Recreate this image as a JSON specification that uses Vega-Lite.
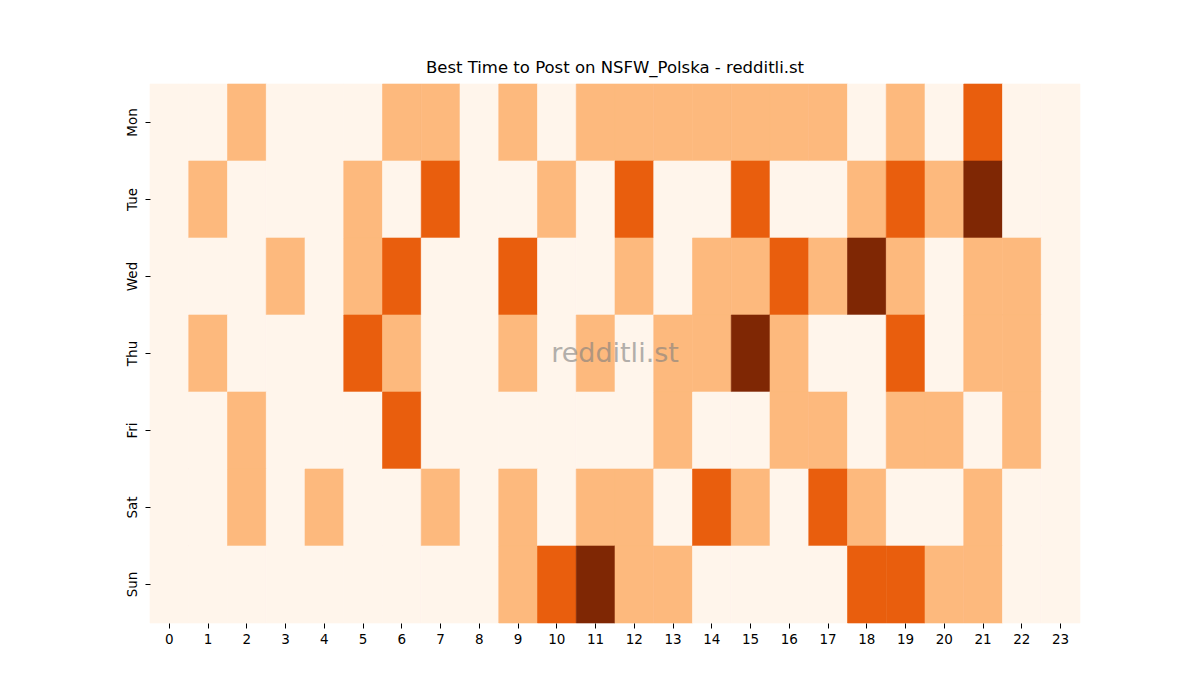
{
  "$schema": "https://vega.github.io/schema/vega-lite/v6.json",
  "autosize": {"type": "none"},
  "padding": {"left": 150, "top": 84, "right": 120, "bottom": 77},
  "width": 930,
  "height": 539,
  "background": "white",
  "title": {
    "text": "Best Time to Post on NSFW_Polska - redditli.st",
    "font": "DejaVu Sans",
    "fontSize": 16.5,
    "fontWeight": "normal",
    "color": "black",
    "offset": 7
  },
  "config": {
    "view": {"stroke": null},
    "axis": {
      "labelFont": "DejaVu Sans",
      "labelFontSize": 13.5,
      "labelColor": "black",
      "tickColor": "black",
      "tickSize": 5,
      "labelPadding": 4,
      "domain": false,
      "grid": false,
      "title": null
    }
  },
  "data": {
    "values": [
      {"day": "Mon", "hour": 0, "v": 0}, {"day": "Mon", "hour": 1, "v": 0}, {"day": "Mon", "hour": 2, "v": 1}, {"day": "Mon", "hour": 3, "v": 0},
      {"day": "Mon", "hour": 4, "v": 0}, {"day": "Mon", "hour": 5, "v": 0}, {"day": "Mon", "hour": 6, "v": 1}, {"day": "Mon", "hour": 7, "v": 1},
      {"day": "Mon", "hour": 8, "v": 0}, {"day": "Mon", "hour": 9, "v": 1}, {"day": "Mon", "hour": 10, "v": 0}, {"day": "Mon", "hour": 11, "v": 1},
      {"day": "Mon", "hour": 12, "v": 1}, {"day": "Mon", "hour": 13, "v": 1}, {"day": "Mon", "hour": 14, "v": 1}, {"day": "Mon", "hour": 15, "v": 1},
      {"day": "Mon", "hour": 16, "v": 1}, {"day": "Mon", "hour": 17, "v": 1}, {"day": "Mon", "hour": 18, "v": 0}, {"day": "Mon", "hour": 19, "v": 1},
      {"day": "Mon", "hour": 20, "v": 0}, {"day": "Mon", "hour": 21, "v": 2}, {"day": "Mon", "hour": 22, "v": 0}, {"day": "Mon", "hour": 23, "v": 0},

      {"day": "Tue", "hour": 0, "v": 0}, {"day": "Tue", "hour": 1, "v": 1}, {"day": "Tue", "hour": 2, "v": 0}, {"day": "Tue", "hour": 3, "v": 0},
      {"day": "Tue", "hour": 4, "v": 0}, {"day": "Tue", "hour": 5, "v": 1}, {"day": "Tue", "hour": 6, "v": 0}, {"day": "Tue", "hour": 7, "v": 2},
      {"day": "Tue", "hour": 8, "v": 0}, {"day": "Tue", "hour": 9, "v": 0}, {"day": "Tue", "hour": 10, "v": 1}, {"day": "Tue", "hour": 11, "v": 0},
      {"day": "Tue", "hour": 12, "v": 2}, {"day": "Tue", "hour": 13, "v": 0}, {"day": "Tue", "hour": 14, "v": 0}, {"day": "Tue", "hour": 15, "v": 2},
      {"day": "Tue", "hour": 16, "v": 0}, {"day": "Tue", "hour": 17, "v": 0}, {"day": "Tue", "hour": 18, "v": 1}, {"day": "Tue", "hour": 19, "v": 2},
      {"day": "Tue", "hour": 20, "v": 1}, {"day": "Tue", "hour": 21, "v": 3}, {"day": "Tue", "hour": 22, "v": 0}, {"day": "Tue", "hour": 23, "v": 0},

      {"day": "Wed", "hour": 0, "v": 0}, {"day": "Wed", "hour": 1, "v": 0}, {"day": "Wed", "hour": 2, "v": 0}, {"day": "Wed", "hour": 3, "v": 1},
      {"day": "Wed", "hour": 4, "v": 0}, {"day": "Wed", "hour": 5, "v": 1}, {"day": "Wed", "hour": 6, "v": 2}, {"day": "Wed", "hour": 7, "v": 0},
      {"day": "Wed", "hour": 8, "v": 0}, {"day": "Wed", "hour": 9, "v": 2}, {"day": "Wed", "hour": 10, "v": 0}, {"day": "Wed", "hour": 11, "v": 0},
      {"day": "Wed", "hour": 12, "v": 1}, {"day": "Wed", "hour": 13, "v": 0}, {"day": "Wed", "hour": 14, "v": 1}, {"day": "Wed", "hour": 15, "v": 1},
      {"day": "Wed", "hour": 16, "v": 2}, {"day": "Wed", "hour": 17, "v": 1}, {"day": "Wed", "hour": 18, "v": 3}, {"day": "Wed", "hour": 19, "v": 1},
      {"day": "Wed", "hour": 20, "v": 0}, {"day": "Wed", "hour": 21, "v": 1}, {"day": "Wed", "hour": 22, "v": 1}, {"day": "Wed", "hour": 23, "v": 0},

      {"day": "Thu", "hour": 0, "v": 0}, {"day": "Thu", "hour": 1, "v": 1}, {"day": "Thu", "hour": 2, "v": 0}, {"day": "Thu", "hour": 3, "v": 0},
      {"day": "Thu", "hour": 4, "v": 0}, {"day": "Thu", "hour": 5, "v": 2}, {"day": "Thu", "hour": 6, "v": 1}, {"day": "Thu", "hour": 7, "v": 0},
      {"day": "Thu", "hour": 8, "v": 0}, {"day": "Thu", "hour": 9, "v": 1}, {"day": "Thu", "hour": 10, "v": 0}, {"day": "Thu", "hour": 11, "v": 1},
      {"day": "Thu", "hour": 12, "v": 0}, {"day": "Thu", "hour": 13, "v": 1}, {"day": "Thu", "hour": 14, "v": 1}, {"day": "Thu", "hour": 15, "v": 3},
      {"day": "Thu", "hour": 16, "v": 1}, {"day": "Thu", "hour": 17, "v": 0}, {"day": "Thu", "hour": 18, "v": 0}, {"day": "Thu", "hour": 19, "v": 2},
      {"day": "Thu", "hour": 20, "v": 0}, {"day": "Thu", "hour": 21, "v": 1}, {"day": "Thu", "hour": 22, "v": 1}, {"day": "Thu", "hour": 23, "v": 0},

      {"day": "Fri", "hour": 0, "v": 0}, {"day": "Fri", "hour": 1, "v": 0}, {"day": "Fri", "hour": 2, "v": 1}, {"day": "Fri", "hour": 3, "v": 0},
      {"day": "Fri", "hour": 4, "v": 0}, {"day": "Fri", "hour": 5, "v": 0}, {"day": "Fri", "hour": 6, "v": 2}, {"day": "Fri", "hour": 7, "v": 0},
      {"day": "Fri", "hour": 8, "v": 0}, {"day": "Fri", "hour": 9, "v": 0}, {"day": "Fri", "hour": 10, "v": 0}, {"day": "Fri", "hour": 11, "v": 0},
      {"day": "Fri", "hour": 12, "v": 0}, {"day": "Fri", "hour": 13, "v": 1}, {"day": "Fri", "hour": 14, "v": 0}, {"day": "Fri", "hour": 15, "v": 0},
      {"day": "Fri", "hour": 16, "v": 1}, {"day": "Fri", "hour": 17, "v": 1}, {"day": "Fri", "hour": 18, "v": 0}, {"day": "Fri", "hour": 19, "v": 1},
      {"day": "Fri", "hour": 20, "v": 1}, {"day": "Fri", "hour": 21, "v": 0}, {"day": "Fri", "hour": 22, "v": 1}, {"day": "Fri", "hour": 23, "v": 0},

      {"day": "Sat", "hour": 0, "v": 0}, {"day": "Sat", "hour": 1, "v": 0}, {"day": "Sat", "hour": 2, "v": 1}, {"day": "Sat", "hour": 3, "v": 0},
      {"day": "Sat", "hour": 4, "v": 1}, {"day": "Sat", "hour": 5, "v": 0}, {"day": "Sat", "hour": 6, "v": 0}, {"day": "Sat", "hour": 7, "v": 1},
      {"day": "Sat", "hour": 8, "v": 0}, {"day": "Sat", "hour": 9, "v": 1}, {"day": "Sat", "hour": 10, "v": 0}, {"day": "Sat", "hour": 11, "v": 1},
      {"day": "Sat", "hour": 12, "v": 1}, {"day": "Sat", "hour": 13, "v": 0}, {"day": "Sat", "hour": 14, "v": 2}, {"day": "Sat", "hour": 15, "v": 1},
      {"day": "Sat", "hour": 16, "v": 0}, {"day": "Sat", "hour": 17, "v": 2}, {"day": "Sat", "hour": 18, "v": 1}, {"day": "Sat", "hour": 19, "v": 0},
      {"day": "Sat", "hour": 20, "v": 0}, {"day": "Sat", "hour": 21, "v": 1}, {"day": "Sat", "hour": 22, "v": 0}, {"day": "Sat", "hour": 23, "v": 0},

      {"day": "Sun", "hour": 0, "v": 0}, {"day": "Sun", "hour": 1, "v": 0}, {"day": "Sun", "hour": 2, "v": 0}, {"day": "Sun", "hour": 3, "v": 0},
      {"day": "Sun", "hour": 4, "v": 0}, {"day": "Sun", "hour": 5, "v": 0}, {"day": "Sun", "hour": 6, "v": 0}, {"day": "Sun", "hour": 7, "v": 0},
      {"day": "Sun", "hour": 8, "v": 0}, {"day": "Sun", "hour": 9, "v": 1}, {"day": "Sun", "hour": 10, "v": 2}, {"day": "Sun", "hour": 11, "v": 3},
      {"day": "Sun", "hour": 12, "v": 1}, {"day": "Sun", "hour": 13, "v": 1}, {"day": "Sun", "hour": 14, "v": 0}, {"day": "Sun", "hour": 15, "v": 0},
      {"day": "Sun", "hour": 16, "v": 0}, {"day": "Sun", "hour": 17, "v": 0}, {"day": "Sun", "hour": 18, "v": 2}, {"day": "Sun", "hour": 19, "v": 2},
      {"day": "Sun", "hour": 20, "v": 1}, {"day": "Sun", "hour": 21, "v": 1}, {"day": "Sun", "hour": 22, "v": 0}, {"day": "Sun", "hour": 23, "v": 0}
    ]
  },
  "layer": [
    {
      "mark": {"type": "rect", "strokeWidth": 0.6},
      "encoding": {
        "x": {
          "field": "hour",
          "type": "ordinal",
          "scale": {"paddingInner": 0, "paddingOuter": 0},
          "axis": {"labelAngle": 0}
        },
        "y": {
          "field": "day",
          "type": "ordinal",
          "sort": ["Mon", "Tue", "Wed", "Thu", "Fri", "Sat", "Sun"],
          "scale": {"paddingInner": 0, "paddingOuter": 0},
          "axis": {"labelAngle": -90, "labelAlign": "center", "labelBaseline": "bottom", "labelPadding": 6}
        },
        "color": {
          "field": "v",
          "type": "ordinal",
          "scale": {"domain": [0, 1, 2, 3], "range": ["#fff5eb", "#fdb97d", "#e95e0d", "#7f2704"]},
          "legend": null
        },
        "stroke": {
          "field": "v",
          "type": "ordinal",
          "scale": {"domain": [0, 1, 2, 3], "range": ["#fff5eb", "#fdb97d", "#e95e0d", "#7f2704"]},
          "legend": null
        }
      }
    },
    {
      "data": {"values": [{"label": "redditli.st"}]},
      "mark": {
        "type": "text",
        "font": "DejaVu Sans",
        "fontSize": 27,
        "color": "#808080",
        "opacity": 0.6,
        "align": "center",
        "baseline": "middle",
        "x": {"expr": "width / 2"},
        "y": {"expr": "height / 2"}
      },
      "encoding": {"text": {"field": "label"}}
    }
  ]
}
